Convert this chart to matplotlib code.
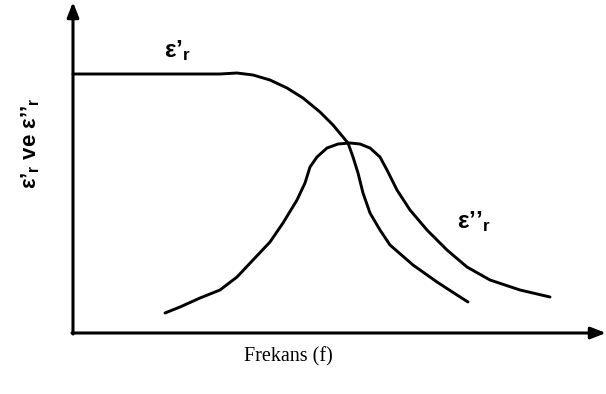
import numpy as np
import matplotlib
matplotlib.use("Agg")
import matplotlib.pyplot as plt

# sketch of permittivity vs frequency (drawn in a 606x394 pixel frame, y downwards)
eps1_x = [73, 150, 220, 237, 253, 270, 287, 303, 320, 333, 343, 348, 353, 358,
          363, 370, 380, 390, 413, 437, 457, 468]
eps1_y = [74, 74, 74, 73, 75, 80, 88, 98, 112, 125, 137, 143, 157, 173,
          193, 213, 230, 245, 265, 282, 295, 302]

eps2_x = [165, 180, 200, 220, 237, 253, 270, 283, 297, 305, 310, 317, 327, 338,
          350, 360, 370, 380, 387, 397, 410, 427, 447, 467, 490, 520, 550]
eps2_y = [313, 307, 298, 290, 277, 260, 242, 223, 200, 183, 167, 157, 148, 144,
          143, 144, 148, 157, 170, 190, 210, 230, 250, 267, 280, 290, 297]

xlabel = "Frekans (f)"
ylabel = "$ε’_{r}$ ve $ε’’_{r}$"
lbl1 = "$ε’_{r}$"
lbl2 = "$ε’’_{r}$"

plt.rcParams['mathtext.fontset'] = 'custom'
plt.rcParams['mathtext.rm'] = 'Liberation Sans:bold'
plt.rcParams['mathtext.it'] = 'Liberation Sans:bold'
plt.rcParams['mathtext.bf'] = 'Liberation Sans:bold'
plt.rcParams['font.family'] = ['Liberation Sans', 'DejaVu Sans']

fig = plt.figure(figsize=(6.06, 3.94), dpi=100)
ax = fig.add_axes([0, 0, 1, 1])
ax.set_xlim(0, 606)
ax.set_ylim(394, 0)
ax.axis("off")

# axes with arrow heads
ax.annotate("", xy=(73, 2), xytext=(73, 334),
            arrowprops=dict(arrowstyle="-|>,head_length=0.9,head_width=0.35",
                            lw=2.2, color="black", shrinkA=0, shrinkB=0))
ax.annotate("", xy=(606, 333), xytext=(72, 333),
            arrowprops=dict(arrowstyle="-|>,head_length=0.9,head_width=0.35",
                            lw=2.2, color="black", shrinkA=0, shrinkB=0))

ax.plot(eps1_x, eps1_y, color="black", lw=2.1, solid_joinstyle="round",
        solid_capstyle="round")
ax.plot(eps2_x, eps2_y, color="black", lw=2.1, solid_joinstyle="round",
        solid_capstyle="round")

ax.text(177, 51, lbl1, fontsize=17.5, ha="center", va="center")
ax.text(474, 222, lbl2, fontsize=17.5, ha="center", va="center")
ax.text(31, 143, ylabel, fontsize=16, fontweight="bold", rotation=90,
        ha="center", va="center")
ax.text(288, 357, xlabel, fontsize=14.5, ha="center", va="center",
        family="Liberation Serif")

fig.savefig("out.png", dpi=100)
